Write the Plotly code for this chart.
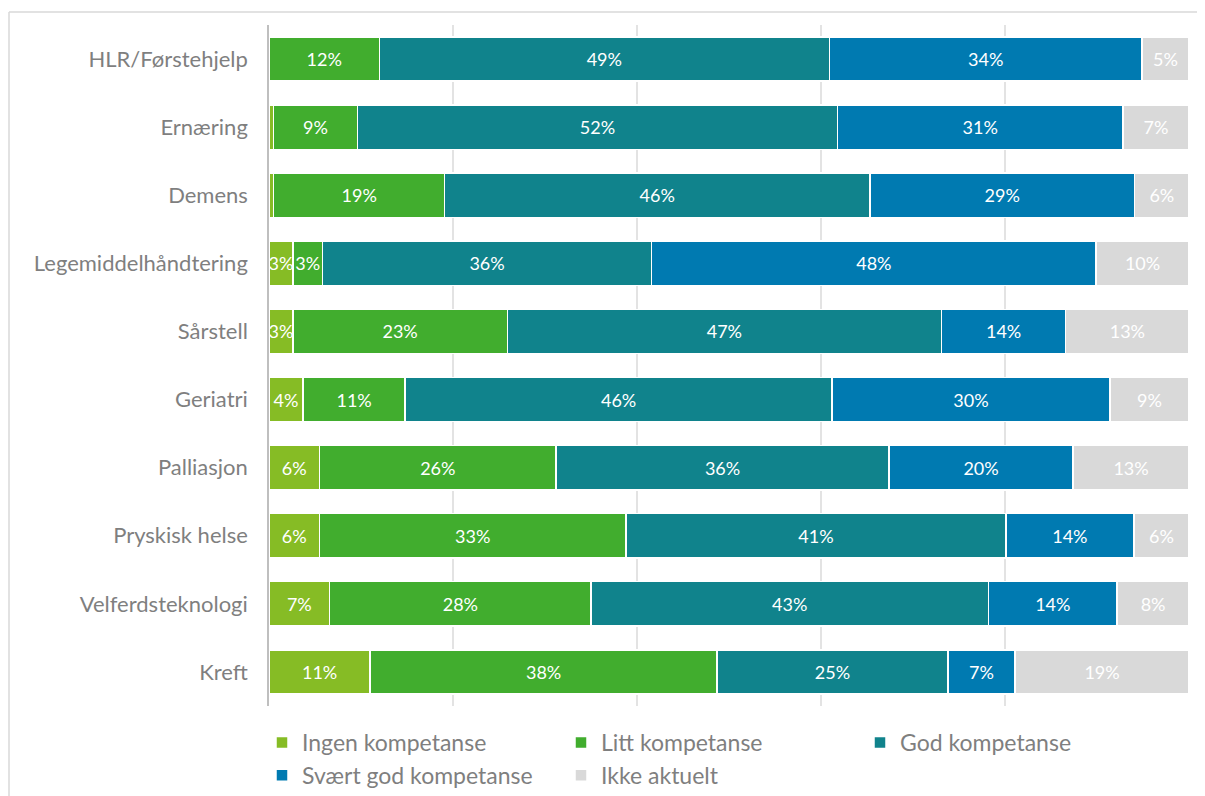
import plotly.graph_objects as go

categories = ["HLR/Førstehjelp", "Ernæring", "Demens", "Legemiddelhåndtering", "Sårstell",
              "Geriatri", "Palliasjon", "Pryskisk helse", "Velferdsteknologi", "Kreft"]

ingen = [0.0, 0.5, 0.5, 2.6, 2.6, 3.7, 5.5, 5.5, 6.6, 11.0]
litt = [12.0, 9.1, 18.6, 3.2, 23.3, 11.1, 25.7, 33.3, 28.4, 37.7]
god = [48.9, 52.2, 46.2, 35.8, 47.2, 46.4, 36.2, 41.3, 43.2, 25.1]
svart_god = [34.0, 31.0, 28.8, 48.3, 13.5, 30.2, 20.0, 13.9, 14.0, 7.3]
ikke = [5.1, 7.2, 5.9, 10.1, 13.4, 8.6, 12.6, 6.0, 7.8, 18.9]

series = [
    ("Ingen kompetanse", ingen, "#86BC25"),
    ("Litt kompetanse", litt, "#41AD2E"),
    ("God kompetanse", god, "#10838C"),
    ("Svært god kompetanse", svart_god, "#007AB1"),
    ("Ikke aktuelt", ikke, "#D9D9D9"),
]

FONT = "Lato"
fig = go.Figure()
for name, vals, color in series:
    fig.add_trace(go.Bar(
        name=name, y=categories, x=vals, orientation="h",
        marker=dict(color=color, line=dict(color="white", width=1.5)),
        text=[f"{round(v)}%" if v >= 1 else "" for v in vals],
        textposition="inside", insidetextanchor="middle", textangle=0,
        textfont=dict(color="white", size=18, family=FONT),
        hoverinfo="skip",
    ))

OFF = 8  # page body margin
L, R, T, B = 269 - OFF, 1189 - OFF, 25 - OFF, 706 - OFF
W, H = 1205 - OFF, 796 - OFF
pw, ph = R - L, B - T

def px(x):
    return (x - OFF - L) / pw

def py(y):
    return (B - (y - OFF)) / ph

fig.update_layout(
    barmode="stack", bargap=0.35,
    width=W, height=H,
    margin=dict(l=L, r=W - R, t=T, b=H - B, autoexpand=False),
    paper_bgcolor="white", plot_bgcolor="white",
    font=dict(family=FONT, color="#7F7F7F"),
    uniformtext=dict(minsize=18, mode="show"),
    xaxis=dict(range=[0, 100], dtick=20, showticklabels=False, showgrid=True,
               gridcolor="#E3E3E3", gridwidth=1.5, zeroline=False, fixedrange=True),
    yaxis=dict(autorange="reversed", showline=True, linecolor="#BFBFBF", linewidth=1.5,
               ticks="", tickfont=dict(size=22, color="#7F7F7F", family=FONT),
               ticklabelstandoff=15, showgrid=False, fixedrange=True),
    legend=dict(orientation="h", x=px(262), xanchor="left", y=py(721), yanchor="top",
                font=dict(size=23, color="#7F7F7F", family=FONT),
                entrywidth=254, entrywidthmode="pixels", traceorder="normal",
                itemclick=False, itemdoubleclick=False),
    shapes=[
        dict(type="line", xref="paper", yref="paper",
             x0=px(9), x1=px(1260), y0=py(12), y1=py(12),
             line=dict(color="#D9D9D9", width=1.5), layer="below"),
        dict(type="line", xref="paper", yref="paper",
             x0=px(9), x1=px(9), y0=py(12), y1=py(850),
             line=dict(color="#D9D9D9", width=1.5), layer="below"),
    ],
    showlegend=True,
)

fig.write_html("out.html", config={"displayModeBar": False})
